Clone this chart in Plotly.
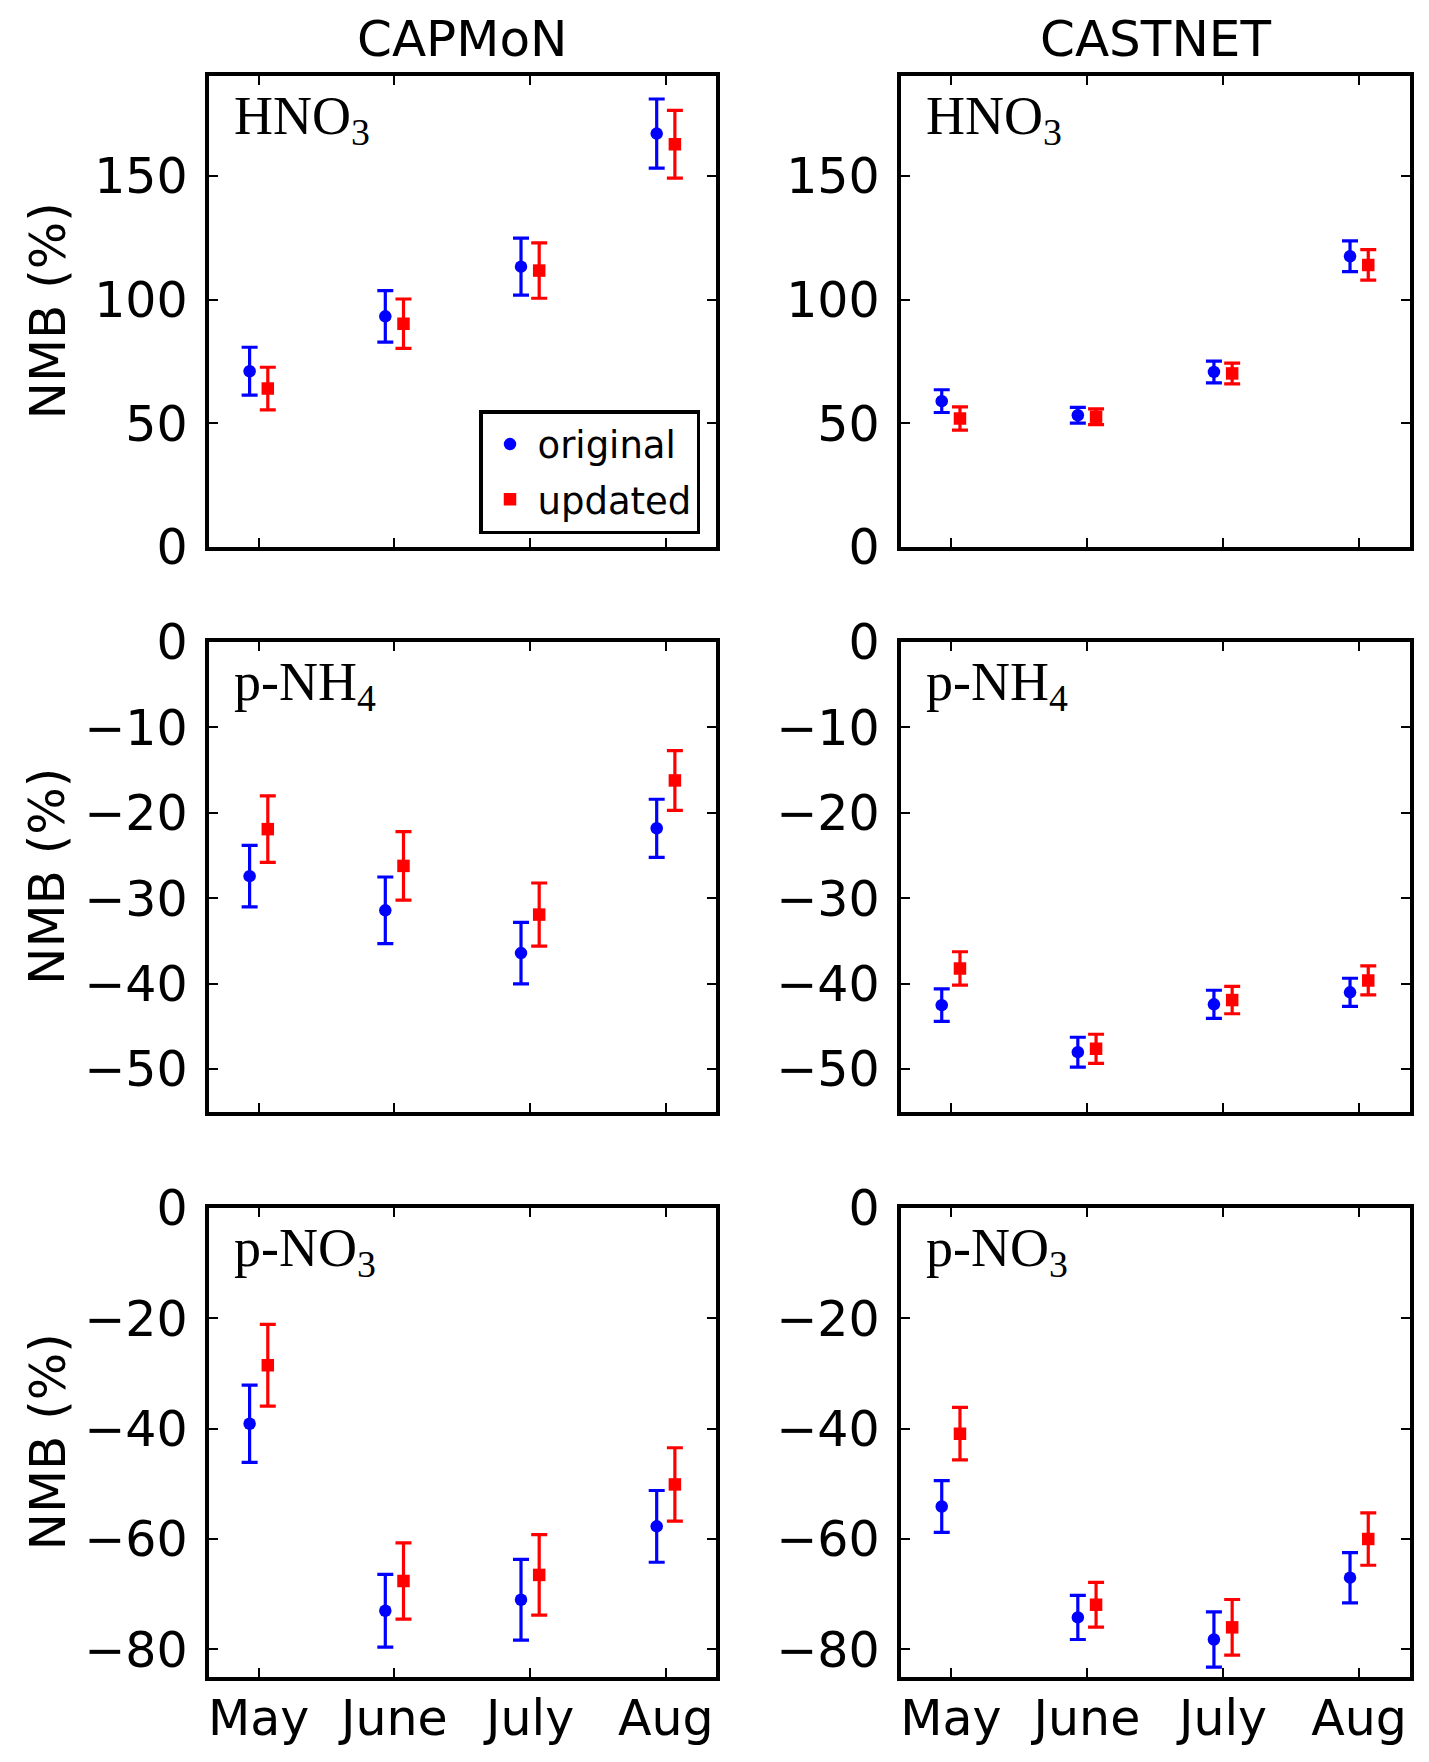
import plotly.graph_objects as go

# ---------------- data ----------------
months = ["May", "June", "July", "Aug"]
networks = ["CAPMoN", "CASTNET"]
species = ["HNO<sub>3</sub>", "p-NH<sub>4</sub>", "p-NO<sub>3</sub>"]
series_names = ["original", "updated"]

capmon_hno3_orig = [71.1, 93.3, 113.4, 167.2]
capmon_hno3_orig_err = [9.7, 10.4, 11.5, 14.0]
capmon_hno3_upd = [64.1, 90.3, 111.8, 162.9]
capmon_hno3_upd_err = [8.6, 10.0, 11.2, 13.7]

castnet_hno3_orig = [59.0, 53.3, 70.8, 117.6]
castnet_hno3_orig_err = [4.6, 3.2, 4.4, 6.2]
castnet_hno3_upd = [52.0, 52.7, 70.2, 114.1]
castnet_hno3_upd_err = [4.7, 3.2, 4.2, 6.2]

capmon_nh4_orig = [-27.4, -31.4, -36.4, -21.8]
capmon_nh4_orig_err = [3.6, 3.9, 3.6, 3.4]
capmon_nh4_upd = [-21.9, -26.2, -31.9, -16.2]
capmon_nh4_upd_err = [3.9, 4.0, 3.7, 3.5]

castnet_nh4_orig = [-42.5, -48.0, -42.4, -41.0]
castnet_nh4_orig_err = [1.9, 1.75, 1.65, 1.65]
castnet_nh4_upd = [-38.2, -47.6, -41.9, -39.6]
castnet_nh4_upd_err = [1.95, 1.7, 1.6, 1.7]

capmon_no3_orig = [-39.1, -73.0, -71.0, -57.7]
capmon_no3_orig_err = [7.0, 6.6, 7.3, 6.5]
capmon_no3_upd = [-28.5, -67.6, -66.5, -50.1]
capmon_no3_upd_err = [7.4, 6.9, 7.3, 6.65]

castnet_no3_orig = [-54.1, -74.2, -78.2, -67.0]
castnet_no3_orig_err = [4.7, 4.0, 5.0, 4.55]
castnet_no3_upd = [-40.9, -71.9, -76.0, -60.0]
castnet_no3_upd_err = [4.75, 4.05, 5.05, 4.75]

row_ticks = [[0, 50, 100, 150], [0, -10, -20, -30, -40, -50], [0, -20, -40, -60, -80]]
row_ranges = [[0, 190.5], [-55, 0], [-85, 0]]

panels = [
    [(capmon_hno3_orig, capmon_hno3_orig_err, capmon_hno3_upd, capmon_hno3_upd_err),
     (castnet_hno3_orig, castnet_hno3_orig_err, castnet_hno3_upd, castnet_hno3_upd_err)],
    [(capmon_nh4_orig, capmon_nh4_orig_err, capmon_nh4_upd, capmon_nh4_upd_err),
     (castnet_nh4_orig, castnet_nh4_orig_err, castnet_nh4_upd, castnet_nh4_upd_err)],
    [(capmon_no3_orig, capmon_no3_orig_err, capmon_no3_upd, capmon_no3_upd_err),
     (castnet_no3_orig, castnet_no3_orig_err, castnet_no3_upd, castnet_no3_upd_err)],
]

# ---------------- layout geometry (screen pixels) ----------------
PAGE_W, PAGE_H = 1429, 1762
BODY_MARGIN = 8
W, H = PAGE_W - 2 * BODY_MARGIN, PAGE_H - 2 * BODY_MARGIN
col_px = [(208.5, 716.0), (900.5, 1409.5)]
row_px = [(76.0, 547.0), (642.0, 1112.0), (1208.0, 1677.0)]
OFFSET = 0.067
XRANGE = [-0.37, 3.37]

def fx(p):
    return (p - BODY_MARGIN) / W

def fy(p):
    return 1 - (p - BODY_MARGIN) / H

TICK_FONT = dict(family="DejaVu Sans", size=49, color="black")
BLUE = "#0000ff"
RED = "#ff0000"

fig = go.Figure()
layout = dict(
    width=W, height=H,
    margin=dict(l=0, r=0, t=0, b=0, autoexpand=False),
    paper_bgcolor="white", plot_bgcolor="white",
    showlegend=True,
)
annotations = []

k = 0
for r in range(3):
    for c in range(2):
        k += 1
        xa = "x" if k == 1 else f"x{k}"
        ya = "y" if k == 1 else f"y{k}"
        orig, orig_err, upd, upd_err = panels[r][c]
        xpos = list(range(len(months)))
        fig.add_trace(go.Scatter(
            x=[v - OFFSET for v in xpos], y=orig, mode="markers",
            name=series_names[0], xaxis=xa, yaxis=ya,
            marker=dict(symbol="circle", size=12.5, color=BLUE),
            error_y=dict(type="data", array=orig_err, color=BLUE, thickness=3.2, width=8),
            showlegend=(k == 1), legendgroup="a",
        ))
        fig.add_trace(go.Scatter(
            x=[v + OFFSET for v in xpos], y=upd, mode="markers",
            name=series_names[1], xaxis=xa, yaxis=ya,
            marker=dict(symbol="square", size=12.5, color=RED),
            error_y=dict(type="data", array=upd_err, color=RED, thickness=3.2, width=8),
            showlegend=(k == 1), legendgroup="b",
        ))
        x0, x1 = col_px[c]
        y0, y1 = row_px[r]
        axcommon = dict(showline=True, linecolor="black", linewidth=4, mirror="ticks",
                        ticks="inside", ticklen=9, tickwidth=2, tickcolor="black",
                        showgrid=False, zeroline=False, tickfont=TICK_FONT)
        layout["xaxis" if k == 1 else f"xaxis{k}"] = dict(
            domain=[fx(x0), fx(x1)], anchor=ya, range=XRANGE,
            tickmode="array", tickvals=xpos, ticktext=months,
            showticklabels=(r == 2), ticklabelstandoff=-5, **axcommon)
        layout["yaxis" if k == 1 else f"yaxis{k}"] = dict(
            domain=[fy(y1), fy(y0)], anchor=xa, range=row_ranges[r],
            tickmode="array", tickvals=row_ticks[r],
            ticklabelstandoff=7, **axcommon)
        # species label
        annotations.append(dict(
            text=species[r], xref="paper", yref="paper",
            x=fx(x0 + 23), y=fy(y0 + 8), xanchor="left", yanchor="top",
            showarrow=False, font=dict(family="Liberation Serif", size=54, color="black")))

# column titles
for c in range(2):
    x0, x1 = col_px[c]
    annotations.append(dict(
        text=networks[c], xref="paper", yref="paper",
        x=fx((x0 + x1) / 2), y=fy(39), xanchor="center", yanchor="middle",
        showarrow=False, font=dict(family="DejaVu Sans", size=50, color="black")))

# y-axis titles
for r in range(3):
    y0, y1 = row_px[r]
    annotations.append(dict(
        text="NMB (%)", xref="paper", yref="paper",
        x=fx(47), y=fy((y0 + y1) / 2), xanchor="center", yanchor="middle",
        textangle=-90, showarrow=False,
        font=dict(family="DejaVu Sans", size=50, color="black")))

layout["annotations"] = annotations
layout["legend"] = dict(
    x=fx(700), y=fy(410), xanchor="right", yanchor="top",
    bgcolor="white", bordercolor="black", borderwidth=3.5,
    font=dict(family="DejaVu Sans", size=37, color="black"),
    tracegroupgap=4, traceorder="grouped", itemwidth=45,
)
fig.update_layout(**layout)
fig.write_html("out.html")
